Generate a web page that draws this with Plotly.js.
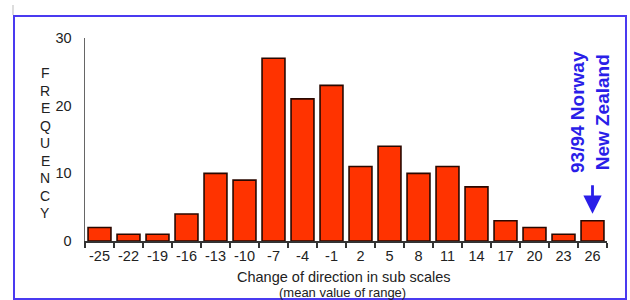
<!DOCTYPE html>
<html>
<head>
<meta charset="utf-8">
<script src="https://cdn.plot.ly/plotly-3.0.1.min.js"></script>
<style>html,body{margin:0;padding:0;background:#fff;}#chart{width:630px;height:300px;}</style>
</head>
<body>
<div id="chart"></div>
<script>
// Data
const categories = ['-25','-22','-19','-16','-13','-10','-7','-4','-1','2','5','8','11','14','17','20','23','26'];
const frequency = [2, 1, 1, 4, 10, 9, 27, 21, 23, 11, 14, 10, 11, 8, 3, 2, 1, 3];
const yTicks = [0, 10, 20, 30];
const xTitle = 'Change of direction in sub scales';
const xSubTitle = '(mean value of range)';
const yTitle = 'FREQUENCY';
const noteLines = ['93/94 Norway', 'New Zealand'];
const noteCategory = '26';

// Layout helpers (pixel -> paper)
const W = 630, H = 300;
const M = {l: 85, r: 23, t: 38, b: 59};
const PW = W - M.l - M.r, PH = H - M.t - M.b;
const px = x => (x - M.l) / PW;
const py = y => (H - M.b - y) / PH;

const font = 'Liberation Sans, Arial, Helvetica, sans-serif';
const blue = '#2a1ee8';

const trace = {
  type: 'bar',
  x: categories,
  y: frequency,
  marker: {color: '#ff3300', line: {color: '#2a0800', width: 1.6}},
  hoverinfo: 'x+y'
};

const noteIdx = categories.indexOf(noteCategory);

const letterAnns = yTitle.split('').map((ch, i) => ({
  xref: 'paper', yref: 'paper', x: px(45), y: py(73 + i * 17.5), text: ch, showarrow: false,
  xanchor: 'center', yanchor: 'middle', font: {size: 14, color: '#222', family: font}
}));

const layout = {
  width: W, height: H,
  margin: M,
  paper_bgcolor: '#ffffff',
  plot_bgcolor: '#ffffff',
  showlegend: false,
  bargap: 0.21,
  font: {family: font, color: '#222', size: 14},
  xaxis: {
    type: 'category',
    categoryorder: 'array', categoryarray: categories,
    tickson: 'boundaries',
    tickangle: 0,
    ticks: 'outside', ticklen: 5, tickwidth: 1.5, tickcolor: '#333',
    showline: true, linecolor: '#333', linewidth: 2,
    showgrid: false, zeroline: false,
    tickfont: {size: 14.5, color: '#222', family: font},
    ticklabelstandoff: 1,
    fixedrange: true
  },
  yaxis: {
    range: [0, 30],
    tickvals: yTicks,
    ticktext: yTicks.map(String),
    ticks: '',
    showline: true, linecolor: '#666', linewidth: 1.5,
    showgrid: false, zeroline: false,
    tickfont: {size: 14.5, color: '#222', family: font},
    ticklabelstandoff: 9,
    fixedrange: true
  },
  annotations: [
    {xref: 'paper', yref: 'paper', x: px(344), y: py(277), text: xTitle, showarrow: false,
     xanchor: 'center', yanchor: 'middle', font: {size: 14.5, color: '#222', family: font}},
    {xref: 'paper', yref: 'paper', x: px(342), y: py(292.5), text: xSubTitle, showarrow: false,
     xanchor: 'center', yanchor: 'middle', font: {size: 13, color: '#222', family: font}},
    ...letterAnns,
    {xref: 'paper', yref: 'paper', x: px(590), y: py(112), text: noteLines.map(s => '<b>' + s + '</b>').join('<br>'),
     showarrow: false, textangle: -90, xanchor: 'center', yanchor: 'middle', align: 'center',
     font: {size: 19, color: blue, family: font}},
    {xref: 'x', yref: 'y', x: noteIdx, y: frequency[noteIdx], text: '', showarrow: true,
     ax: 0, ay: -37, standoff: 7, arrowhead: 2, arrowsize: 1.3, arrowwidth: 2.8, arrowcolor: blue}
  ],
  shapes: [
    {type: 'rect', xref: 'paper', yref: 'paper', x0: px(14), x1: px(626), y0: py(299), y1: py(16),
     line: {color: '#4a3af0', width: 2}, fillcolor: 'rgba(0,0,0,0)', layer: 'below'},
    {type: 'line', xref: 'paper', yref: 'paper', x0: px(13), x1: px(13), y0: py(15), y1: py(5),
     line: {color: '#bbbbbb', width: 1}}
  ]
};

Plotly.newPlot('chart', [trace], layout, {displayModeBar: false, staticPlot: true});
</script>
</body>
</html>
